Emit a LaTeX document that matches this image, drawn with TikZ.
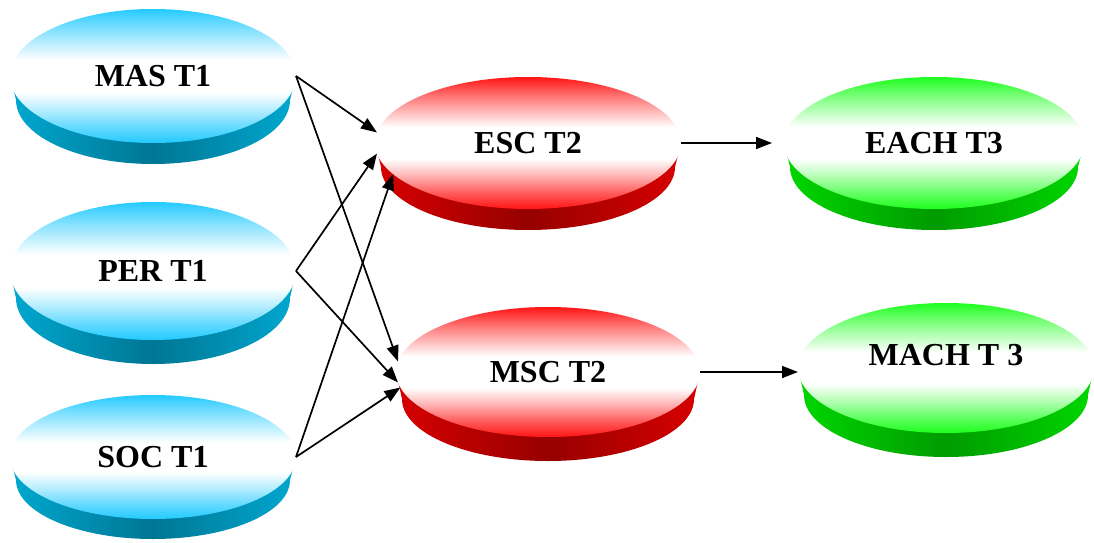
\documentclass[tikz,border=0pt]{standalone}
\usepackage{fontspec}
\setmainfont{Liberation Serif}
\usetikzlibrary{shapes.geometric,arrows.meta,backgrounds}

\definecolor{bluetop}{RGB}{35,202,255}
\definecolor{bluewall}{RGB}{0,168,208}
\definecolor{bluedeep}{RGB}{0,118,148}
\definecolor{redtop}{RGB}{255,20,20}
\definecolor{redwall}{RGB}{215,0,0}
\definecolor{reddeep}{RGB}{150,0,0}
\definecolor{greentop}{RGB}{30,255,30}
\definecolor{greenwall}{RGB}{0,215,0}
\definecolor{greendeep}{RGB}{0,155,0}

% top faces: coloured rim, broad white band
\pgfdeclareverticalshading{bluefacefill}{100bp}{color(0bp)=(bluetop); color(25bp)=(bluetop);
  color(31bp)=(bluetop!70!white); color(38bp)=(bluetop!30!white); color(44bp)=(white);
  color(56bp)=(white); color(61bp)=(bluetop!25!white); color(68bp)=(bluetop!60!white);
  color(75bp)=(bluetop); color(100bp)=(bluetop)}
\pgfdeclareverticalshading{redfacefill}{100bp}{color(0bp)=(redtop); color(25bp)=(redtop);
  color(31bp)=(redtop!70!white); color(38bp)=(redtop!30!white); color(44bp)=(white);
  color(56bp)=(white); color(61bp)=(redtop!25!white); color(68bp)=(redtop!60!white);
  color(75bp)=(redtop); color(100bp)=(redtop)}
\pgfdeclareverticalshading{greenfacefill}{100bp}{color(0bp)=(greentop); color(25bp)=(greentop);
  color(31bp)=(greentop!70!white); color(38bp)=(greentop!30!white); color(44bp)=(white);
  color(56bp)=(white); color(61bp)=(greentop!25!white); color(68bp)=(greentop!60!white);
  color(75bp)=(greentop); color(100bp)=(greentop)}

\tikzset{
  disk/.style={ellipse, inner sep=0pt, outer sep=0pt},
  bluedisk/.style={disk, shading=bluefacefill},
  reddisk/.style={disk, shading=redfacefill},
  greendisk/.style={disk, shading=greenfacefill},
  bluewallshade/.style={left color=bluewall, right color=bluewall, middle color=bluedeep},
  redwallshade/.style={left color=redwall, right color=redwall, middle color=reddeep},
  greenwallshade/.style={left color=greenwall, right color=greenwall, middle color=greendeep},
  link/.style={-{Triangle[length=16pt,width=12pt]}, line width=1.7pt},
}

\begin{document}
\begin{tikzpicture}[x=1pt, y=1pt, font=\fontsize{32}{36}\selectfont\bfseries]
\useasboundingbox (0,0) rectangle (1094,542);

% first column
\node[bluedisk, minimum width=286pt, minimum height=134pt] (mas) at (153,466) {MAS T1};
\node[bluedisk, minimum width=286pt, minimum height=138pt] (per) at (153,271) {PER T1};
\node[bluedisk, minimum width=286pt, minimum height=124pt] (soc) at (153,85) {SOC T1};

% second column
\node[reddisk, minimum width=306pt, minimum height=132pt] (esc) at (528,399) {ESC T2};
\node[reddisk, minimum width=304pt, minimum height=130pt] (msc) at (548,170) {MSC T2};

% third column
\node[greendisk, minimum width=300pt, minimum height=132pt] (each) at (934,399) {EACH T3};
\node[greendisk, minimum width=296pt, minimum height=130pt,
      label={[yshift=13pt]center:MACH T 3}] (mach) at (946,174) {};

% side walls
\begin{scope}[on background layer]
\shade[bluewallshade] (mas.west) -- ++(6,-24) arc[start angle=180, end angle=360, x radius=137pt, y radius=64pt] -- (mas.east) -- cycle;
\shade[bluewallshade] (per.west) -- ++(6,-27) arc[start angle=180, end angle=360, x radius=137pt, y radius=66pt] -- (per.east) -- cycle;
\shade[bluewallshade] (soc.west) -- ++(6,-23) arc[start angle=180, end angle=360, x radius=137pt, y radius=59pt] -- (soc.east) -- cycle;
\shade[redwallshade] (esc.west) -- ++(6,-24) arc[start angle=180, end angle=360, x radius=147pt, y radius=63pt] -- (esc.east) -- cycle;
\shade[redwallshade] (msc.west) -- ++(6,-27) arc[start angle=180, end angle=360, x radius=146pt, y radius=62pt] -- (msc.east) -- cycle;
\shade[greenwallshade] (each.west) -- ++(6,-24) arc[start angle=180, end angle=360, x radius=144pt, y radius=63pt] -- (each.east) -- cycle;
\shade[greenwallshade] (mach.west) -- ++(6,-27) arc[start angle=180, end angle=360, x radius=142pt, y radius=62pt] -- (mach.east) -- cycle;
\end{scope}

% links
\draw[link] (mas.east) -- (esc.176);
\draw[link] (mas.east) -- (msc.176);
\draw[link] (per.east) -- (esc.184);
\draw[link] (per.east) -- (msc.184);
\draw[link] (soc.east) -- (esc.193);
\draw[link] (soc.east) -- (msc.186);
\draw[link, shorten >=12pt] (esc.east) -- (esc.east -| each.west);
\draw[link] (msc.east) -- (msc.east -| mach.west);
\end{tikzpicture}
\end{document}
